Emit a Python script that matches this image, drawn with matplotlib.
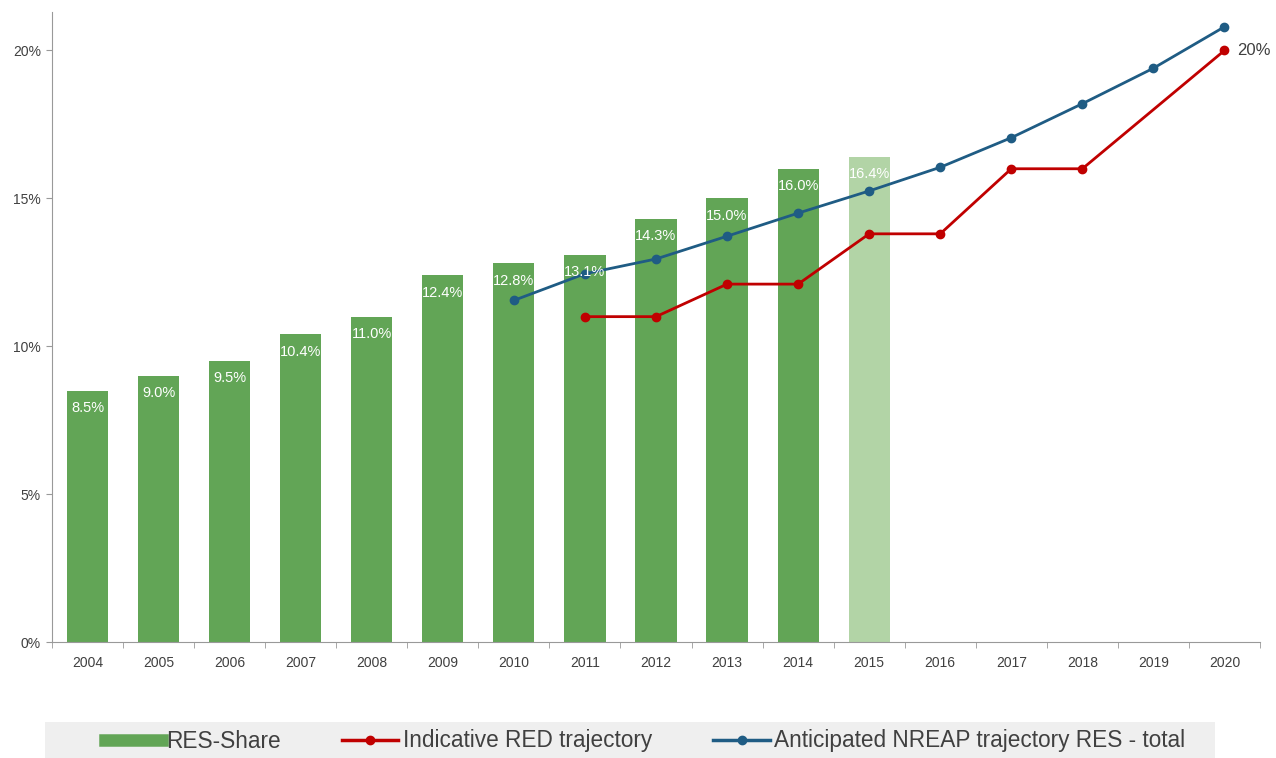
import numpy as np
import matplotlib.pyplot as plt
from matplotlib.patches import Rectangle

# RES share data and the two trajectories (in %)
years = list(range(2004, 2021))
res_years = list(range(2004, 2016))
res_share = [8.5, 9.0, 9.5, 10.4, 11.0, 12.4, 12.8, 13.1, 14.3, 15.0, 16.0, 16.4]
red_years = [2011, 2012, 2013, 2014, 2015, 2016, 2017, 2018, 2020]
red_traj = [11.0, 11.0, 12.1, 12.1, 13.8, 13.8, 16.0, 16.0, 20.0]
nreap_years = list(range(2010, 2021))
nreap_traj = [11.55, 12.45, 12.95, 13.72, 14.5, 15.25, 16.05, 17.05, 18.2, 19.4, 20.8]

plt.rcParams['font.family'] = ['Liberation Sans', 'DejaVu Sans']

green = '#62a556'
light_green = '#b2d4a6'
red = '#c00000'
blue = '#1f5c84'
text_grey = '#404040'

W, H = 1276, 758
fig = plt.figure(figsize=(W / 100, H / 100), dpi=100)
ax = fig.add_axes([52 / W, 116 / H, 1208 / W, 630 / H])

xpos = {y: i for i, y in enumerate(years)}
bar_x = [xpos[y] for y in res_years]
colors = [green] * (len(res_years) - 1) + [light_green]
ax.bar(bar_x, res_share, width=0.58, color=colors, zorder=1)
for x, v in zip(bar_x, res_share):
    ax.text(x, v - 0.35, f'{v:.1f}%', ha='center', va='top', color='white',
            fontsize=10.5, zorder=4)

ax.plot([xpos[y] for y in red_years], red_traj, color=red, lw=2,
        marker='o', ms=6, zorder=3)
ax.plot([xpos[y] for y in nreap_years], nreap_traj, color=blue, lw=2,
        marker='o', ms=6, zorder=3)
ax.text(xpos[2020] + 0.18, red_traj[-1], '20%', ha='left', va='center',
        fontsize=12, color=text_grey)

ax.set_xlim(-0.5, len(years) - 0.5)
ax.set_ylim(0, 21.3)
ax.set_yticks([0, 5, 10, 15, 20])
ax.set_yticklabels([f'{t}%' for t in [0, 5, 10, 15, 20]])
ax.set_xticks(range(len(years)))
ax.set_xticklabels([str(y) for y in years])
ax.set_xticks(np.arange(-0.5, len(years)), minor=True)
ax.tick_params(axis='x', which='major', length=0, pad=10, labelsize=10,
               labelcolor=text_grey)
ax.tick_params(axis='x', which='minor', length=4, color='#999999', direction='out')
ax.tick_params(axis='y', length=4, color='#999999', labelsize=10,
               labelcolor=text_grey, pad=4)
for s in ['top', 'right']:
    ax.spines[s].set_visible(False)
for s in ['left', 'bottom']:
    ax.spines[s].set_color('#999999')

# grey legend strip at the bottom
fig.patches.append(Rectangle((45 / W, 0), 1170 / W, 36 / H, transform=fig.transFigure,
                             facecolor='#efefef', edgecolor='none', zorder=0))
handles = [
    plt.Line2D([], [], color=green, lw=9),
    plt.Line2D([], [], color=red, lw=2.5, marker='o', ms=6),
    plt.Line2D([], [], color=blue, lw=2.5, marker='o', ms=6),
]
labels = ['RES-Share', 'Indicative RED trajectory', 'Anticipated NREAP trajectory RES - total']
leg = fig.legend(handles, labels, loc='center left', ncol=3,
                 bbox_to_anchor=(105 / W, 17 / H), frameon=False,
                 handlelength=2.5, handletextpad=0.2, columnspacing=2.7,
                 borderpad=0, borderaxespad=0, prop={'size': 16.3})
for t in leg.get_texts():
    t.set_color(text_grey)

fig.savefig('out.png', dpi=100)
